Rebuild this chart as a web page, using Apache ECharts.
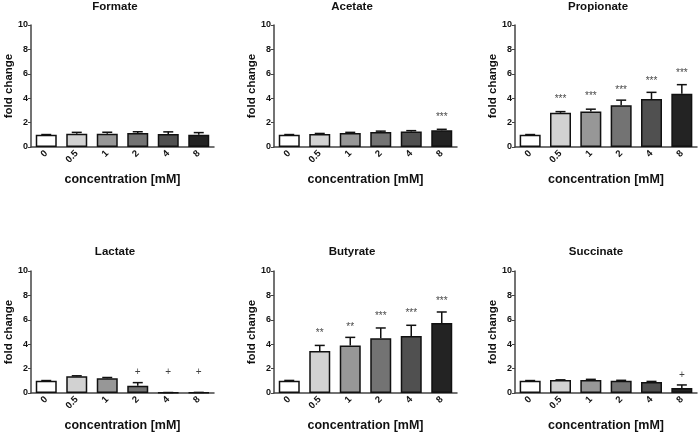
<!DOCTYPE html>
<html><head><meta charset="utf-8">
<script src="https://cdn.jsdelivr.net/npm/echarts@6/dist/echarts.min.js"></script>
<style>html,body{margin:0;padding:0;background:#fff}#c{width:700px;height:432px}</style>
</head><body><div id="c"></div>
<script>
const categories = ['0','0.5','1','2','4','8'];
const barColors = ['#ffffff','#d2d2d2','#979797','#737373','#505050','#232323'];
const yTicks = [0,2,4,6,8,10];
const titles = ['Formate','Acetate','Propionate','Lactate','Butyrate','Succinate'];

const formateVals = [1.0,1.08,1.09,1.14,1.07,1.01];
const formateErr  = [0.02,0.12,0.12,0.11,0.17,0.17];
const formateSig  = ['','','','','',''];
const formateSigY = [0,0,0,0,0,0];

const acetateVals = [1.0,1.07,1.15,1.22,1.27,1.37];
const acetateErr  = [0.02,0.04,0.05,0.08,0.07,0.08];
const acetateSig  = ['','','','','','***'];
const acetateSigY = [0,0,0,0,0,2.43];

const propionateVals = [1.0,2.8,2.92,3.42,3.93,4.37];
const propionateErr  = [0.02,0.1,0.18,0.42,0.55,0.74];
const propionateSig  = ['','***','***','***','***','***'];
const propionateSigY = [0,3.91,4.13,4.67,5.41,6.07];

const lactateVals = [1.0,1.37,1.2,0.6,0.03,0.04];
const lactateErr  = [0.02,0.04,0.07,0.25,0.01,0.01];
const lactateSig  = ['','','','+','+','+'];
const lactateSigY = [0,0,0,1.67,1.67,1.67];

const butyrateVals = [1.0,3.44,3.9,4.48,4.67,5.74];
const butyrateErr  = [0.03,0.46,0.66,0.85,0.88,0.9];
const butyrateSig  = ['','**','**','***','***','***'];
const butyrateSigY = [0,4.86,5.4,6.3,6.5,7.54];

const succinateVals = [1.0,1.06,1.07,1.01,0.9,0.41];
const succinateErr  = [0.02,0.02,0.05,0.03,0.05,0.25];
const succinateSig  = ['','','','','','+'];
const succinateSigY = [0,0,0,0,0,1.42];

const panels = [
  [formateVals, formateErr, formateSig, formateSigY],
  [acetateVals, acetateErr, acetateSig, acetateSigY],
  [propionateVals, propionateErr, propionateSig, propionateSigY],
  [lactateVals, lactateErr, lactateSig, lactateSigY],
  [butyrateVals, butyrateErr, butyrateSig, butyrateSigY],
  [succinateVals, succinateErr, succinateSig, succinateSigY]
];

const FONT = 'Liberation Sans, Arial, sans-serif';
const gridPos = [
  {left:31, top:25, width:183, height:122},
  {left:274, top:25, width:183, height:122},
  {left:515, top:25, width:182, height:122},
  {left:31, top:271, width:183, height:122},
  {left:274, top:271, width:183, height:122},
  {left:515, top:271, width:182, height:122}
];
const titleX = [115, 352, 598, 115, 352, 596];
const titleY = [1, 1, 1, 246, 246, 246];

const grid = [], xAxis = [], yAxis = [], series = [], title = [];
panels.forEach((p, i) => {
  const [vals, errs, sig, sigY] = p;
  grid.push(Object.assign({outerBoundsMode: 'none', containLabel: false}, gridPos[i]));
  title.push({text: titles[i], left: titleX[i], top: titleY[i], textAlign: 'center', padding: 0,
    textStyle: {fontFamily: FONT, fontSize: 11.5, fontWeight: 'bold', color: '#111'}});
  xAxis.push({type: 'category', gridIndex: i, data: categories,
    name: 'concentration [mM]', nameLocation: 'middle', nameGap: 26, nameMoveOverlap: false,
    nameTextStyle: {fontFamily: FONT, fontSize: 12.5, fontWeight: 'bold', color: '#111'},
    axisLine: {lineStyle: {color: '#444', width: 1.5}},
    axisTick: {alignWithLabel: true, length: 3, lineStyle: {color: '#444', width: 1}},
    axisLabel: {rotate: 45, fontFamily: FONT, fontSize: 9.5, fontWeight: 'bold', color: '#111', margin: 5}
  });
  yAxis.push({type: 'value', gridIndex: i, min: yTicks[0], max: yTicks[yTicks.length-1], interval: 2,
    name: 'fold change', nameLocation: 'middle', nameGap: 16, nameRotate: 90, nameMoveOverlap: false,
    nameTextStyle: {fontFamily: FONT, fontSize: 11.5, fontWeight: 'bold', color: '#111'},
    axisLine: {show: true, lineStyle: {color: '#444', width: 1.5}},
    axisTick: {show: true, length: 3, lineStyle: {color: '#444', width: 1}},
    splitLine: {show: false},
    axisLabel: {fontFamily: FONT, fontSize: 9, fontWeight: 'bold', color: '#111', margin: 3}
  });
  series.push({type: 'bar', xAxisIndex: i, yAxisIndex: i, barWidth: 21,
    data: vals.map((v, k) => ({value: v, itemStyle: {color: barColors[k]}})),
    itemStyle: {borderColor: '#111', borderWidth: 1.5}, z: 2, silent: true});
  series.push({type: 'custom', xAxisIndex: i, yAxisIndex: i, z: 3, silent: true,
    data: vals.map((v, k) => [k, v, v + errs[k]]),
    renderItem: function (params, api) {
      const x = api.value(0);
      const lo = api.coord([x, api.value(1)]);
      const hi = api.coord([x, api.value(2)]);
      const style = {stroke: '#111', lineWidth: 1.5, fill: null};
      return {type: 'group', children: [
        {type: 'line', shape: {x1: lo[0], y1: lo[1], x2: hi[0], y2: hi[1]}, style: style},
        {type: 'line', shape: {x1: hi[0] - 5, y1: hi[1], x2: hi[0] + 5, y2: hi[1]}, style: style}
      ]};
    }
  });
  series.push({type: 'scatter', xAxisIndex: i, yAxisIndex: i, symbolSize: 0, silent: true, z: 4,
    data: sig.map((s, k) => s ? {value: [k, sigY[k]], label: {show: true, formatter: s}} : null).filter(d => d),
    label: {show: true, position: 'inside', offset: [0, 0],
      fontFamily: FONT, fontSize: 10, color: '#111'}
  });
});

const chart = echarts.init(document.getElementById('c'), null, {renderer: 'canvas'});
chart.setOption({animation: false, backgroundColor: '#fff', title, grid, xAxis, yAxis, series});
</script></body></html>
